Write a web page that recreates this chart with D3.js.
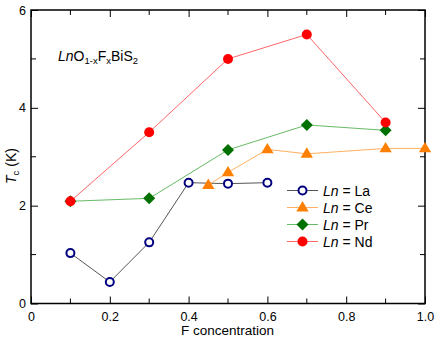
<!DOCTYPE html>
<html><head><meta charset="utf-8">
<script src="https://cdn.jsdelivr.net/npm/d3@7"></script>
<style>body{margin:0;background:#fff}svg{display:block;font-family:Arial,"Liberation Sans",sans-serif}</style>
</head><body>
<svg id="c" width="436" height="340"></svg>
<script>
const xTicks = [0, 0.2, 0.4, 0.6, 0.8, 1.0];
const xTickLabels = ["0", "0.2", "0.4", "0.6", "0.8", "1.0"];
const yTicks = [0, 2, 4, 6];
const laX = [0.1, 0.2, 0.3, 0.4, 0.5, 0.6];
const laY = [1.03, 0.44, 1.25, 2.47, 2.45, 2.47];
const ceX = [0.45, 0.5, 0.6, 0.7, 0.9, 1.0];
const ceY = [2.42, 2.68, 3.15, 3.06, 3.17, 3.17];
const prX = [0.1, 0.3, 0.5, 0.7, 0.9];
const prY = [2.09, 2.15, 3.14, 3.65, 3.54];
const ndX = [0.1, 0.3, 0.5, 0.7, 0.9];
const ndY = [2.09, 3.5, 5.0, 5.5, 3.7];
const seriesNames = ["La", "Ce", "Pr", "Nd"];

const svg = d3.select("#c");
const FONT = "Arial, 'Liberation Sans', sans-serif";
const L = 31, R = 425, T = 10, B = 303.5;
const x = d3.scaleLinear().domain([0, 1]).range([L, R]);
const y = d3.scaleLinear().domain([0, 6]).range([B, T]);

const series = [
  {name: "La", xs: laX, ys: laY, line: "#555555", sym: "circle", fill: "#fff", stroke: "#000080", size: 4, sw: 2},
  {name: "Ce", xs: ceX, ys: ceY, line: "#ffb060", sym: "triangle", fill: "#ff8000", stroke: "none", size: 6.5, sw: 0},
  {name: "Pr", xs: prX, ys: prY, line: "#66bb66", sym: "diamond", fill: "#007000", stroke: "none", size: 6, sw: 0},
  {name: "Nd", xs: ndX, ys: ndY, line: "#ff6666", sym: "circle", fill: "#ff0000", stroke: "none", size: 5, sw: 0}
];

function marker(g, s, cx, cy) {
  if (s.sym === "circle") {
    g.append("circle").attr("cx", cx).attr("cy", cy).attr("r", s.size)
      .attr("fill", s.fill).attr("stroke", s.stroke).attr("stroke-width", s.sw);
  } else if (s.sym === "triangle") {
    const r = s.size;
    g.append("path").attr("d", `M${cx},${cy - r}L${cx + r * 0.95},${cy + r * 0.6}L${cx - r * 0.95},${cy + r * 0.6}Z`).attr("fill", s.fill);
  } else {
    const r = s.size;
    g.append("path").attr("d", `M${cx},${cy - r}L${cx + r},${cy}L${cx},${cy + r}L${cx - r},${cy}Z`).attr("fill", s.fill);
  }
}

// Axes (frame with inward ticks)
const xAxB = d3.axisBottom(x).tickValues(xTicks).tickSizeInner(-7).tickSizeOuter(0).tickFormat((d, i) => xTickLabels[i]).tickPadding(9);
const gxb = svg.append("g").attr("transform", `translate(0,${B})`).call(xAxB).attr("font-family", FONT);
gxb.selectAll("text").attr("font-size", 12.5).attr("fill", "#000");
const xAxT = d3.axisTop(x).tickValues(xTicks).tickSizeInner(-7).tickSizeOuter(0).tickFormat("");
svg.append("g").attr("transform", `translate(0,${T})`).call(xAxT);
const yAxL = d3.axisLeft(y).tickValues(yTicks).tickSizeInner(-7).tickSizeOuter(0).tickPadding(5).tickFormat(d3.format("d"));
const gyl = svg.append("g").attr("transform", `translate(${L},0)`).call(yAxL).attr("font-family", FONT);
gyl.selectAll("text").attr("font-size", 12.5).attr("fill", "#000");
const yAxR = d3.axisRight(y).tickValues(yTicks).tickSizeInner(-7).tickSizeOuter(0).tickFormat("");
svg.append("g").attr("transform", `translate(${R},0)`).call(yAxR);
// minor ticks
const xMinor = d3.range(1, 10, 2).map(i => i / 10);
const yMinor = [1, 3, 5];
const mg = svg.append("g").attr("stroke", "#000").attr("stroke-width", 1);
xMinor.forEach(v => {
  mg.append("line").attr("x1", x(v)).attr("x2", x(v)).attr("y1", B).attr("y2", B - 5);
  mg.append("line").attr("x1", x(v)).attr("x2", x(v)).attr("y1", T).attr("y2", T + 5);
});
yMinor.forEach(v => {
  mg.append("line").attr("y1", y(v)).attr("y2", y(v)).attr("x1", L).attr("x2", L + 5);
  mg.append("line").attr("y1", y(v)).attr("y2", y(v)).attr("x1", R).attr("x2", R - 5);
});
svg.selectAll(".domain").remove();
svg.selectAll(".tick line").attr("stroke", "#000");
svg.append("rect").attr("x", L).attr("y", T).attr("width", R - L).attr("height", B - T)
  .attr("fill", "none").attr("stroke", "#000").attr("stroke-width", 1.5);

// Series
const line = d3.line();
series.forEach(s => {
  const pts = s.xs.map((v, i) => [x(v), y(s.ys[i])]);
  svg.append("path").attr("d", line(pts)).attr("fill", "none").attr("stroke", s.line).attr("stroke-width", 1);
});
series.forEach(s => {
  const g = svg.append("g");
  s.xs.forEach((v, i) => marker(g, s, x(v), y(s.ys[i])));
});

// Legend
const lg = svg.append("g");
series.forEach((s, i) => {
  const ly = 190.5 + i * 17;
  lg.append("line").attr("x1", 287).attr("x2", 318).attr("y1", ly).attr("y2", ly).attr("stroke", s.line).attr("stroke-width", 1);
  marker(lg, s, 302.5, ly);
  const t = lg.append("text").attr("x", 323).attr("y", ly + 5).attr("font-size", 14).attr("fill", "#000");
  t.append("tspan").attr("font-style", "italic").text("Ln");
  t.append("tspan").text(" = " + seriesNames[i]);
});

// Title formula
const tt = svg.append("text").attr("x", 58).attr("y", 61).attr("font-size", 14).attr("fill", "#000");
tt.append("tspan").attr("font-style", "italic").text("Ln");
tt.append("tspan").text("O");
tt.append("tspan").attr("font-size", 9.5).attr("dy", 3).text("1-x");
tt.append("tspan").attr("dy", -3).text("F");
tt.append("tspan").attr("font-size", 9.5).attr("dy", 3).text("x");
tt.append("tspan").attr("dy", -3).text("BiS");
tt.append("tspan").attr("font-size", 9.5).attr("dy", 3).text("2");

// Axis labels
svg.append("text").attr("x", 227.5).attr("y", 335).attr("text-anchor", "middle").attr("font-size", 13.5).attr("fill", "#000").text("F concentration");
const yl = svg.append("text").attr("transform", "translate(16,166) rotate(-90)").attr("text-anchor", "middle").attr("font-size", 14).attr("fill", "#000");
yl.append("tspan").attr("font-style", "italic").text("T");
yl.append("tspan").attr("font-size", 9.5).attr("dy", 3).text("c");
yl.append("tspan").attr("dy", -3).text(" (K)");
</script>
</body></html>
